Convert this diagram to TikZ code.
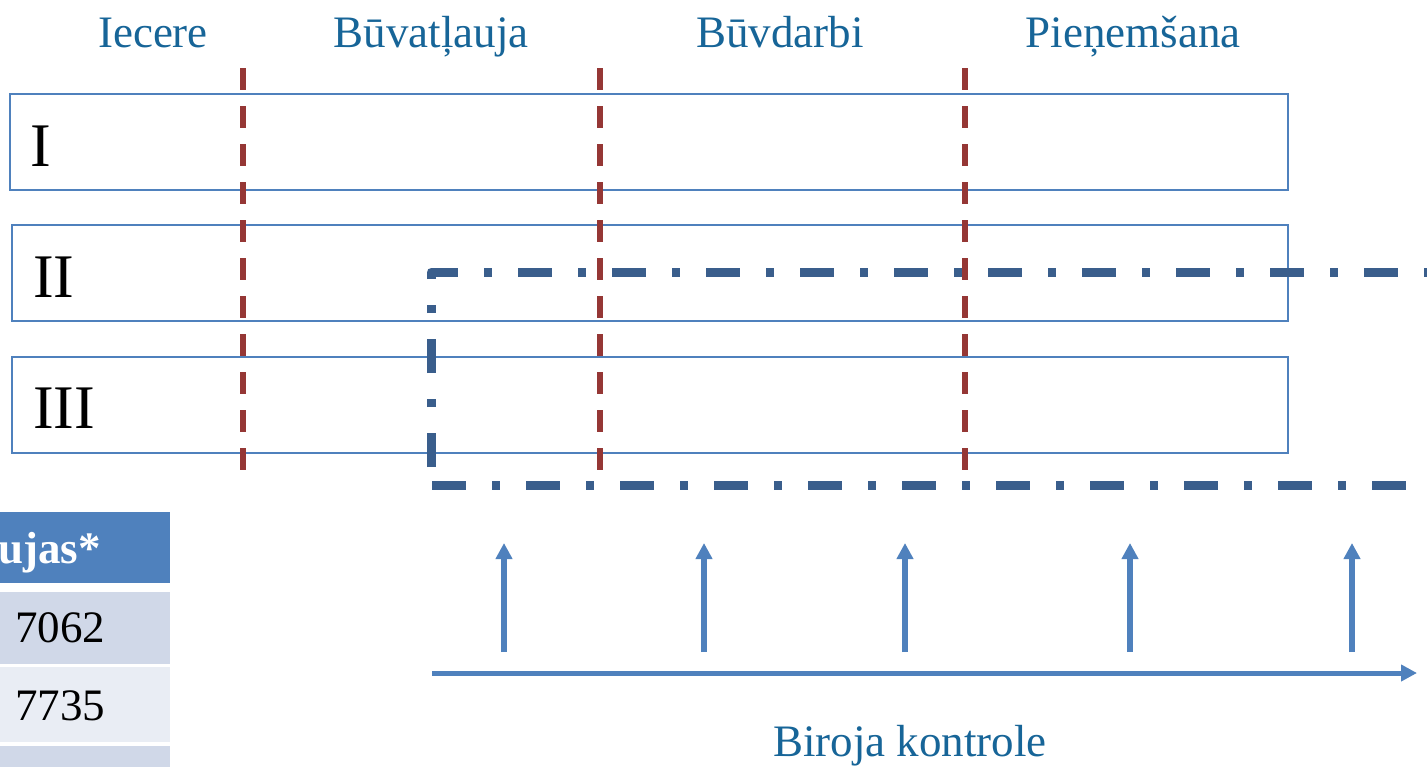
\documentclass[tikz,border=0pt]{standalone}
\usepackage{fontspec}
\setmainfont{Liberation Serif}
\usetikzlibrary{arrows.meta}
\definecolor{boxblue}{RGB}{79,129,189}
\definecolor{phasered}{RGB}{149,55,53}
\definecolor{dashblue}{RGB}{58,94,140}
\definecolor{headtext}{RGB}{23,101,152}
\definecolor{rowdark}{RGB}{208,216,232}
\definecolor{rowlight}{RGB}{233,237,244}
\tikzset{
  rowbox/.style={draw=boxblue, line width=2.5pt, minimum height=96pt, inner sep=0pt, outer sep=0pt, anchor=north west},
  rowlabel/.style={font=\fontsize{62}{62}\selectfont, text=black, inner sep=0pt, anchor=base west},
  headlabel/.style={font=\fontsize{45}{45}\selectfont, text=headtext, inner sep=0pt, anchor=base},
  phaseline/.style={draw=phasered, line width=5.5pt, dash pattern=on 22pt off 16pt},
  scopeline/.style={draw=dashblue, line width=9pt, dash pattern=on 34pt off 26pt on 8pt off 26pt, line join=round},
  ctrlarrow/.style={draw=boxblue, line width=5.5pt, -{Triangle[length=16pt, width=16pt]}},
  cellbox/.style={draw=none, inner sep=0pt, outer sep=0pt, anchor=north west, minimum width=172pt},
  celltext/.style={font=\fontsize{45}{45}\selectfont, inner sep=0pt}
}
\begin{document}
\begin{tikzpicture}[x=1pt, y=-1pt]
\useasboundingbox (0,0) rectangle (1427,766);
\clip (0,0) rectangle (1427,766);
\fill[white] (0,0) rectangle (1427,766);

% header labels
\node[headlabel] (h1) at (153,47) {Iecere};
\node[headlabel] (h2) at (431,47) {Būvatļauja};
\node[headlabel] (h3) at (780,47) {Būvdarbi};
\node[headlabel] (h4) at (1133,47) {Pieņemšana};

% row boxes
\node[rowbox, minimum width=1278pt] (r1) at (10,94) {};
\node[rowbox, minimum width=1276pt] (r2) at (12,225) {};
\node[rowbox, minimum width=1276pt] (r3) at (12,357) {};
\node[rowlabel] (l1) at (30,166) {I};
\node[rowlabel] (l2) at (33,297) {II};
\node[rowlabel] (l3) at (33,428) {III};

% phase separators
\coordinate (p1t) at (243,68); \coordinate (p1b) at (243,472);
\coordinate (p2t) at (600,68); \coordinate (p2b) at (600,472);
\coordinate (p3t) at (965,68); \coordinate (p3b) at (965,472);
\draw[phaseline] (p1t) -- (p1b);
\draw[phaseline] (p2t) -- (p2b);
\draw[phaseline] (p3t) -- (p3b);

% dash-dot scope frame
\coordinate (s0) at (431,467);
\coordinate (s1) at (431,272);
\coordinate (s2) at (1450,272);
\coordinate (s3) at (432,485);
\coordinate (s4) at (1450,485);
\draw[scopeline] (s0) -- (s1) -- (s2);
\draw[scopeline] (s3) -- (s4);

% control arrows
\coordinate (a1s) at (504,652); \coordinate (a1e) at (504,543);
\coordinate (a2s) at (704,652); \coordinate (a2e) at (704,543);
\coordinate (a3s) at (905,652); \coordinate (a3e) at (905,543);
\coordinate (a4s) at (1130,652); \coordinate (a4e) at (1130,543);
\coordinate (a5s) at (1352,652); \coordinate (a5e) at (1352,543);
\draw[ctrlarrow] (a1s) -- (a1e);
\draw[ctrlarrow] (a2s) -- (a2e);
\draw[ctrlarrow] (a3s) -- (a3e);
\draw[ctrlarrow] (a4s) -- (a4e);
\draw[ctrlarrow] (a5s) -- (a5e);
\coordinate (ts) at (432,673); \coordinate (te) at (1417,673);
\draw[ctrlarrow, line width=5pt] (ts) -- (te);
\node[headlabel] (bk) at (910,756) {Biroja kontrole};

% table fragment
\node[cellbox, fill=boxblue, minimum height=71pt] (c0) at (-2,512) {};
\node[cellbox, fill=rowdark, minimum height=72pt] (c1) at (-2,592) {};
\node[cellbox, fill=rowlight, minimum height=75pt] (c2) at (-2,667) {};
\node[cellbox, fill=rowdark, minimum height=30pt] (c3) at (-2,746) {};
\node[celltext, text=white, font=\fontsize{45}{45}\selectfont\bfseries, anchor=base east] (t0) at (101,563) {ujas*};
\node[celltext, text=black, anchor=base west] (t1) at (15,642) {7062};
\node[celltext, text=black, anchor=base west] (t2) at (15,720) {7735};
\end{tikzpicture}
\end{document}
